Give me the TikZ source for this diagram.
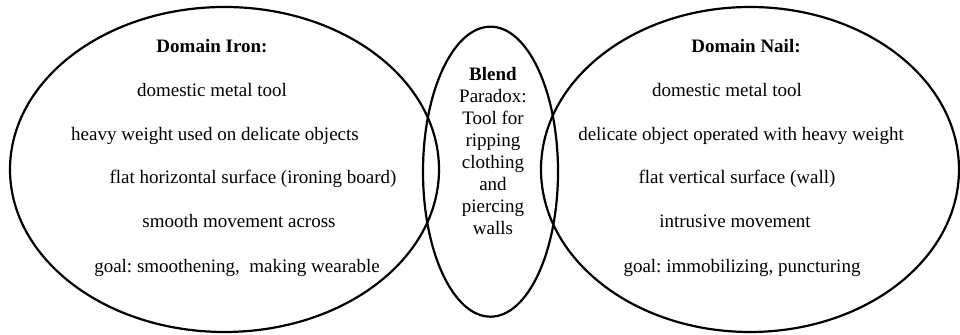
\documentclass[tikz,border=0pt]{standalone}
\usepackage{fontspec}
\setmainfont{Liberation Serif}
\frenchspacing
\begin{document}
\begin{tikzpicture}[x=0.5pt,y=0.5pt,line width=1.1pt,
    domtext/.style={anchor=base,inner sep=0pt,font=\fontsize{9.5}{11}\selectfont},
    domhead/.style={domtext,font=\fontsize{9.5}{11}\selectfont\bfseries},
    blendtext/.style={anchor=north,inner sep=0pt,align=center,font=\fontsize{9.5}{11}\selectfont}]
    \useasboundingbox (0,0) rectangle (960,335);
    % the three domains
    \draw (224.5,165.5) ellipse (214.5 and 162.5);
    \draw (490.5,163.3) ellipse (67.5 and 145);
    \draw (750,165.5) ellipse (209 and 162.5);
    % input space: iron
    \node[domhead] (ironhead) at (212,282) {Domain Iron:};
    \node[domtext] (iron1) at (212,238) {domestic metal tool};
    \node[domtext] (iron2) at (215,194) {heavy weight used on delicate objects};
    \node[domtext] (iron3) at (253,151) {flat horizontal surface (ironing board)};
    \node[domtext] (iron4) at (239,107) {smooth movement across};
    \node[domtext] (iron5) at (237,62) {goal: smoothening,\ \ making wearable};
    % input space: nail
    \node[domhead] (nailhead) at (746,282) {Domain Nail:};
    \node[domtext] (nail1) at (727,238) {domestic metal tool};
    \node[domtext] (nail2) at (741,194) {delicate object operated with heavy weight};
    \node[domtext] (nail3) at (737,151) {flat vertical surface (wall)};
    \node[domtext] (nail4) at (735,107) {intrusive movement};
    \node[domtext] (nail5) at (742,62) {goal: immobilizing, puncturing};
    % blended space
    \node[blendtext] (blend) at (493,269) {\textbf{Blend}\\Paradox:\\Tool for\\ripping\\clothing\\and\\piercing\\walls};
\end{tikzpicture}
\end{document}
